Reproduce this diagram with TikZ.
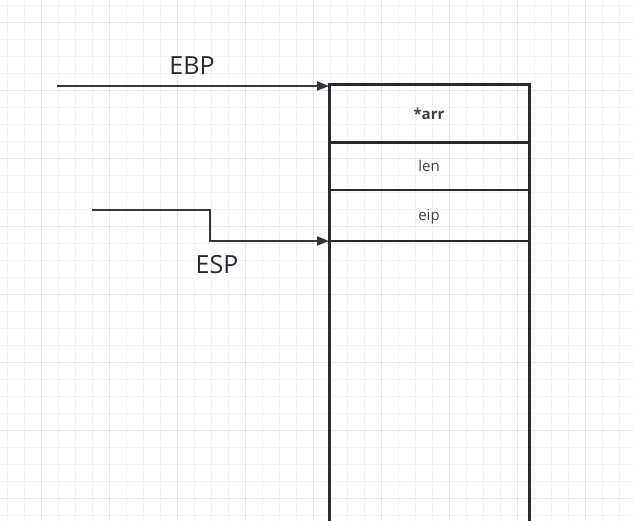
\documentclass[tikz,border=0pt]{standalone}
\usepackage{fontspec}
\setmainfont{Open Sans}
\usetikzlibrary{positioning,arrows.meta}
\definecolor{ink}{HTML}{262B31}
\definecolor{gridminor}{HTML}{F3F3F3}
\definecolor{gridmajor}{HTML}{E6E6E6}
\begin{document}
\begin{tikzpicture}[>={Triangle[length=12pt,width=9pt]},x=1pt,y=-1pt,
  cell/.style={draw=ink,line width=2.5pt,minimum width=200pt,inner sep=0pt,outer sep=0pt,text height=11pt,text depth=0pt,font=\fontsize{15}{18}\selectfont,text=ink!90},
  reg/.style={font=\fontsize{25}{30}\selectfont,text=ink},
  wire/.style={draw=ink!95,line width=2pt}]
		\useasboundingbox[fill=white] (0,0) rectangle (633,521);
		\clip (0,0) rectangle (633,521);
		\foreach \x in {7.3,24.3,...,633} \draw[gridminor,line width=1pt] (\x,0) -- (\x,521);
		\foreach \y in {6,23,...,521} \draw[gridminor,line width=1pt] (0,\y) -- (633,\y);
		\foreach \x in {41.3,109.3,...,633} \draw[gridmajor,line width=1pt] (\x,0) -- (\x,521);
		\foreach \y in {23,91,...,521} \draw[gridmajor,line width=1pt] (0,\y) -- (633,\y);
		\node[cell,minimum height=57.5pt,anchor=north] (arr) at (429,85) {\textbf{*arr}};
		\node[cell,minimum height=47.5pt,below=0pt of arr] (len) {len};
		\node[cell,minimum height=51pt,below=0pt of len] (eip) {eip};
		\node[cell,minimum height=320pt,below=0pt of eip] (free) {};
		\draw[ink,line width=3pt] (free.south west) |- (arr.north east) -- (free.south east);
		\coordinate (ebpin) at (57,86);
		\coordinate (espin) at (92,210);
		\coordinate (espbend) at (210,210);
		\draw[wire,->] (ebpin) -- (ebpin -| arr.west);
		\draw[wire,->] (espin) -- (espbend) |- (eip.south west);
		\node[reg] (ebp) at (192,66) {EBP};
		\node[reg] (esp) at (217,265) {ESP};
\end{tikzpicture}
\end{document}
